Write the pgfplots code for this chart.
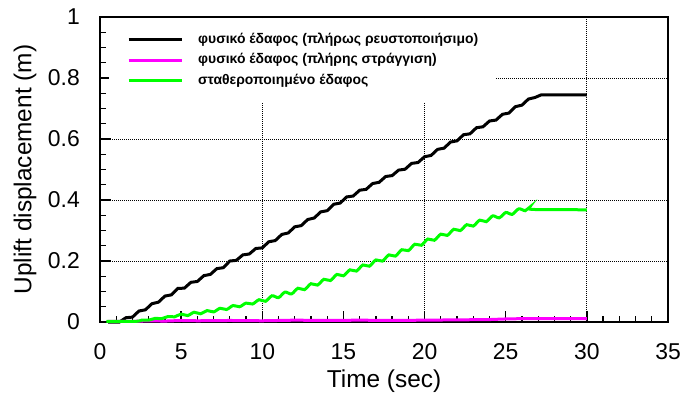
\documentclass[border=0pt]{standalone}
\usepackage{fontspec}
\setmainfont{Liberation Sans}
\usepackage{pgfplots}
\pgfplotsset{compat=1.18}
\definecolor{mygreen}{RGB}{0,255,0}
\definecolor{mymag}{RGB}{255,0,255}
\newcommand{\tickfont}{\fontsize{23}{26}\selectfont}
\begin{document}
\begin{tikzpicture}
\useasboundingbox (0,0) rectangle (683bp,397bp);
\begin{axis}[
  at={(100bp,75bp)}, anchor=south west,
  scale only axis, width=568bp, height=305bp,
  xmin=0, xmax=35, ymin=0, ymax=1,
  clip=false,
  xtick={0,5,10,15,20,25,30,35},
  ytick={0,0.2,0.4,0.6,0.8,1},
  minor x tick num=4, minor y tick num=3,
  tick align=inside, tick pos=left,
  major tick length=11bp, minor tick length=6bp,
  every tick/.style={black, line width=1.3bp},
  extra x ticks={10,20,30}, extra x tick labels={},
  extra x tick style={xmajorgrids=true, major tick length=0bp},
  ymajorgrids,
  grid style={black, line width=0.9bp, dash pattern=on 1bp off 1bp},
  axis line style={line width=1.8bp},
  /pgf/number format/assume math mode=true,
  xticklabel={\tickfont\pgfmathprintnumber{\tick}},
  yticklabel={\tickfont\pgfmathprintnumber{\tick}},
  xticklabel style={font=\tickfont, anchor=center, inner sep=0bp, yshift=-30bp},
  yticklabel style={font=\tickfont, anchor=east, inner sep=0bp, xshift=-20bp},
  label style={font=\fontsize{24.5}{28}\selectfont},
  xlabel={Time (sec)}, ylabel={Uplift displacement (m)},
  xlabel style={at={(axis description cs:0.5,-0.193)}, anchor=center},
  ylabel style={at={(axis description cs:-0.132,0.5)}, anchor=center},
  legend cell align=left,
  legend style={at={(0,1)}, xshift=9bp, yshift=-2bp, anchor=north west, draw=none, fill=white,
    inner xsep=18bp, inner ysep=14bp, row sep=7bp, column sep=15bp,
    nodes={inner sep=0bp, text height=10bp, text depth=3.5bp},
    font=\bfseries\fontsize{14}{16}\selectfont},
  legend image code/.code={\draw[#1, line width=3bp] (0bp,0bp) -- (53bp,0bp);},
]
\addplot[black, line width=3bp] coordinates {
(0.5,0) (1.2,0) (1.6,0.014) (2.0,0.016) (2.4,0.036) (2.8,0.040) (3.2,0.060) (3.6,0.065)
(4.0,0.085) (4.4,0.089) (4.8,0.110) (5.2,0.111) (5.6,0.130) (6.0,0.133) (6.4,0.152)
(6.8,0.156) (7.2,0.175) (7.6,0.178) (8.0,0.200) (8.4,0.202) (8.8,0.220) (9.2,0.223)
(9.6,0.241) (10.0,0.243) (10.4,0.263) (10.8,0.267) (11.2,0.287) (11.6,0.292) (12.0,0.312)
(12.4,0.316) (12.8,0.336) (13.2,0.341) (13.6,0.361) (14.0,0.365) (14.4,0.386) (14.8,0.390)
(15.2,0.410) (15.6,0.413) (16.0,0.432) (16.4,0.435) (16.8,0.454) (17.2,0.458) (17.6,0.477)
(18.0,0.480) (18.4,0.498) (18.8,0.501) (19.2,0.520) (19.6,0.523) (20.0,0.542) (20.4,0.546)
(20.8,0.566) (21.2,0.570) (21.6,0.590) (22.0,0.594) (22.4,0.614) (22.8,0.617) (23.2,0.637)
(23.6,0.640) (24.0,0.659) (24.4,0.662) (24.8,0.681) (25.2,0.685) (25.6,0.706) (26.0,0.711)
(26.4,0.731) (26.8,0.736) (27.2,0.745) (30,0.745)
};
\addlegendentry{\textbf{φυσικό έδαφος (πλήρως ρευστοποιήσιμο)}}
\addplot[mymag, line width=3bp] coordinates {
(0.5,0.002) (2,0.002) (3,0.004) (4,0.003) (5,0.005) (6,0.004) (8,0.005) (10,0.004) (12,0.006)
(14,0.005) (16,0.006) (18,0.005) (20,0.006) (22,0.007) (24,0.008) (25,0.010) (26,0.011)
(28,0.011) (30,0.011)
};
\addlegendentry{\textbf{φυσικό έδαφος (πλήρης στράγγιση)}}
\addplot[mygreen, line width=3bp, smooth] coordinates {
(0.4,0.002) (2.2,0.002) (2.6,0.0065) (3.0,0.006) (3.4,0.012) (3.8,0.011) (4.2,0.018) (4.6,0.017)
(5.0,0.026) (5.4,0.021) (5.8,0.032) (6.2,0.027) (6.6,0.0375) (7.0,0.033) (7.4,0.045)
(7.8,0.041) (8.2,0.054) (8.6,0.050) (9.0,0.062) (9.4,0.059) (9.8,0.073) (10.2,0.068)
(10.6,0.086) (11.0,0.080) (11.4,0.098) (11.8,0.092) (12.2,0.1107) (12.6,0.106) (13.0,0.1255)
(13.4,0.121) (13.8,0.140) (14.2,0.136) (14.6,0.156) (15.0,0.1515) (15.4,0.171) (15.8,0.167)
(16.2,0.187) (16.6,0.183) (17.0,0.2035) (17.4,0.1997) (17.8,0.220) (18.2,0.216) (18.6,0.237)
(19.0,0.234) (19.4,0.255) (19.8,0.2516) (20.2,0.272) (20.6,0.268) (21.0,0.288) (21.4,0.284)
(21.8,0.304) (22.2,0.2997) (22.6,0.319) (23.0,0.3145) (23.4,0.334) (23.8,0.329) (24.2,0.348)
(24.6,0.3415) (25.0,0.359) (25.4,0.353) (25.8,0.371) (26.2,0.365) (26.45,0.375) (26.7,0.369)
(30,0.368)
};
\addlegendentry{\textbf{σταθεροποιημένο έδαφος}}
\end{axis}
\end{tikzpicture}
\end{document}
